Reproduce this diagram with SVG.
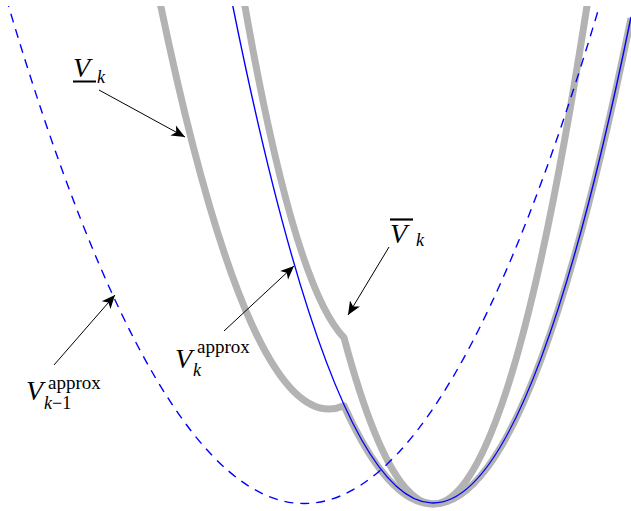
<svg xmlns="http://www.w3.org/2000/svg" width="631" height="511" viewBox="0 0 631 511">
<style>
.bound{fill:none;stroke:#b3b3b3;stroke-width:7;stroke-linejoin:round}
.approx{fill:none;stroke:#0000ff;stroke-width:1.4}
.prev{fill:none;stroke:#0000ff;stroke-width:1.4;stroke-dasharray:9 7}
.arrow{fill:none;stroke:#000;stroke-width:1;marker-end:url(#head)}
.mi{font-family:"Liberation Serif","DejaVu Serif",serif;font-style:italic;fill:#000}
.rm{font-family:"Liberation Serif","DejaVu Serif",serif;font-style:normal;fill:#000}
.big{font-size:28px}
.sub{font-size:18px}
.sup{font-size:19px}
</style>
<defs>
<clipPath id="plot"><rect x="0" y="6" width="631" height="505"/></clipPath>
<marker id="head" markerUnits="userSpaceOnUse" markerWidth="16" markerHeight="14" viewBox="-14 -7 16 14" refX="0" refY="0" orient="auto">
<path d="M0,0 L-13.5,-5.8 L-10,0 L-13.5,5.8 Z" fill="#000"/>
</marker>
</defs>
<rect width="631" height="511" fill="#fff"/>
<g id="curves" clip-path="url(#plot)">
<g id="lower-bound"><path class="bound" d="M159.1,-2 Q251.55,445.6 344,405.8 Q487.5,722.5 631,18.1"/></g>
<g id="upper-bound"><path class="bound" d="M243.5,-2 Q293.75,285.9 344,337.7 Q466.1,794 588.2,-2"/></g>
<g id="approx-k"><path class="approx" d="M231.2,-2 Q431.1,998.4 631,16.9"/></g>
<g id="approx-k-1"><path class="prev" d="M6.2,-2 Q304,1009 601.8,-2"/></g>
</g>
<g id="connectors">
<line class="arrow" x1="99" y1="90" x2="185" y2="137"/>
<line class="arrow" x1="389" y1="247" x2="348" y2="315"/>
<line class="arrow" x1="224" y1="331" x2="294" y2="266"/>
<line class="arrow" x1="54" y1="365" x2="115" y2="295"/>
</g>
<g id="label-lower">
<text class="mi big" x="73" y="77">V</text>
<line x1="73" y1="81.5" x2="96" y2="81.5" stroke="#000" stroke-width="2"/>
<text class="mi sub" x="97" y="83">k</text>
</g>
<g id="label-upper">
<line x1="390" y1="219.5" x2="413" y2="219.5" stroke="#000" stroke-width="2.2"/>
<text class="mi big" x="390" y="243">V</text>
<text class="mi sub" x="416" y="246">k</text>
</g>
<g id="label-approx-k">
<text class="mi big" x="175" y="368">V</text>
<text class="rm sup" x="197" y="353">approx</text>
<text class="mi sub" x="193" y="376">k</text>
</g>
<g id="label-approx-k-1">
<text class="mi big" x="26" y="400">V</text>
<text class="rm sup" x="48" y="389">approx</text>
<text class="mi sub" x="44" y="409">k<tspan class="rm">−1</tspan></text>
</g>
</svg>
